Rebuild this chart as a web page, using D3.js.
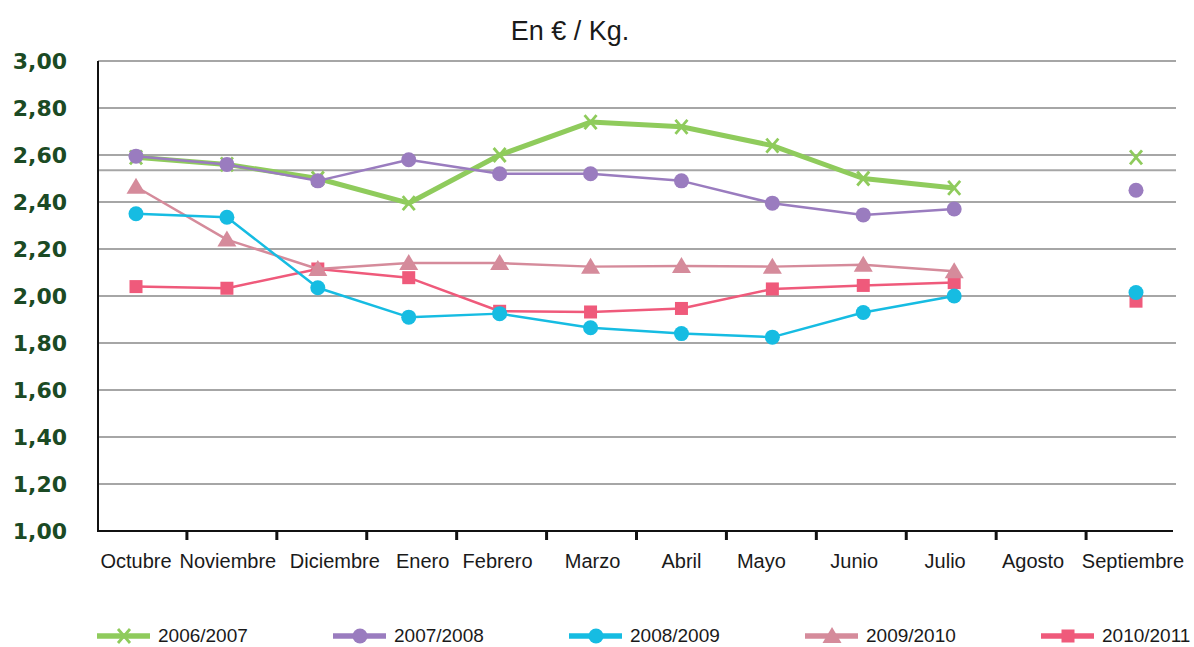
<!DOCTYPE html>
<html>
<head>
<meta charset="utf-8">
<script src="https://cdn.jsdelivr.net/npm/d3@7"></script>
<style>
  html, body { margin: 0; padding: 0; background: #fff; }
  svg { display: block; }
</style>
</head>
<body>
<svg id="chart" width="1194" height="647"></svg>
<script>
// ---- data ----
const months = ["Octubre","Noviembre","Diciembre","Enero","Febrero","Marzo","Abril","Mayo","Junio","Julio","Agosto","Septiembre"];
const seriesNames = ["2006/2007","2007/2008","2008/2009","2009/2010","2010/2011"];
const s2006_2007 = [2.59, 2.56, 2.50, 2.395, 2.60, 2.74, 2.72, 2.64, 2.50, 2.46, null, 2.59];
const s2007_2008 = [2.595, 2.56, 2.49, 2.58, 2.52, 2.52, 2.49, 2.395, 2.345, 2.37, null, 2.45];
const s2008_2009 = [2.35, 2.335, 2.035, 1.91, 1.925, 1.865, 1.84, 1.825, 1.93, 2.00, null, 2.015];
const s2009_2010 = [2.465, 2.24, 2.115, 2.14, 2.14, 2.125, 2.128, 2.125, 2.133, 2.105, null, null];
const s2010_2011 = [2.04, 2.033, 2.115, 2.078, 1.935, 1.932, 1.947, 2.03, 2.045, 2.057, null, 1.978];
const yTicks = [1.0, 1.2, 1.4, 1.6, 1.8, 2.0, 2.2, 2.4, 2.6, 2.8, 3.0];
const extraGrid = [2.535];
const titleText = "En € / Kg.";

// ---- layout / styles ----
const colors = ["#8fcb5c", "#9a7cbf", "#16bce2", "#d58b9b", "#ef5a7b"];
const widths = [5, 2.5, 2.5, 2.5, 2.5];
const markers = ["x", "circle", "circle", "triangle", "square"];
const values = [s2006_2007, s2007_2008, s2008_2009, s2009_2010, s2010_2011];
// small horizontal nudges of month labels, as in the original layout
const labelNudge = [0, 1, 17, 14, -2, 2, 0, -11, -9, -9, -12, -3];

const svg = d3.select("#chart");
const y = d3.scaleLinear().domain([1, 3]).range([531, 61]);
const xPoint = d3.scalePoint().domain(months).range([136, 1136]);
const xBand = d3.scaleBand().domain(months).range([97, 1176]);
const locale = d3.formatLocale({decimal: ",", thousands: ".", grouping: [3], currency: ["", " €"]});
const fmt = locale.format(".2f");

// title
svg.append("text")
  .attr("x", 570).attr("y", 40)
  .attr("text-anchor", "middle")
  .style("font-family", "'Liberation Sans', Arial, sans-serif")
  .style("font-size", "27px")
  .attr("fill", "#1a1a1a")
  .text(titleText);

// gridlines
svg.append("g").selectAll("line").data(yTicks.filter(v => v > 1).concat(extraGrid)).join("line")
  .attr("x1", 98).attr("x2", 1176)
  .attr("y1", d => y(d)).attr("y2", d => y(d))
  .attr("stroke", "#a6a6a6").attr("stroke-width", 2);

// y labels
svg.append("g").selectAll("text").data(yTicks).join("text")
  .attr("x", 67).attr("y", d => y(d))
  .attr("dy", "0.36em")
  .attr("text-anchor", "end")
  .style("font-family", "'DejaVu Sans', sans-serif")
  .style("font-weight", "bold")
  .style("font-size", "22px")
  .attr("fill", "#1b4a24")
  .text(d => fmt(d));

// axes lines
svg.append("line").attr("x1", 98).attr("x2", 98).attr("y1", y(3)).attr("y2", y(1) + 1)
  .attr("stroke", "#111").attr("stroke-width", 2);
svg.append("line").attr("x1", 97).attr("x2", 1173).attr("y1", y(1)).attr("y2", y(1))
  .attr("stroke", "#111").attr("stroke-width", 2);

// ticks at category boundaries
svg.append("g").selectAll("line").data(months.slice(1)).join("line")
  .attr("x1", d => xBand(d)).attr("x2", d => xBand(d))
  .attr("y1", y(1)).attr("y2", y(1) + 9)
  .attr("stroke", "#111").attr("stroke-width", 3);

// x labels
svg.append("g").selectAll("text").data(months).join("text")
  .attr("x", (d, i) => xPoint(d) + labelNudge[i]).attr("y", 568)
  .attr("text-anchor", "middle")
  .style("font-family", "'Liberation Sans', Arial, sans-serif")
  .style("font-size", "20px")
  .attr("fill", "#1a1a1a")
  .text(d => d);

function drawMarker(g, type, color) {
  if (type === "circle") {
    g.append("circle").attr("r", 7.5).attr("fill", color);
  } else if (type === "square") {
    g.append("rect").attr("x", -6.5).attr("y", -6.5).attr("width", 13).attr("height", 13).attr("fill", color);
  } else if (type === "triangle") {
    g.append("path").attr("d", "M0,-9L9.5,7L-9.5,7Z").attr("fill", color);
  } else if (type === "x") {
    g.append("path").attr("d", "M-6,-7L6,7M-6,7L6,-7").attr("stroke", color).attr("stroke-width", 2.8).attr("fill", "none");
  }
}

const line = d3.line()
  .defined(d => d.v !== null)
  .x(d => xPoint(d.m))
  .y(d => y(d.v));

// draw order: later seasons underneath
const order = [4, 3, 2, 0, 1];
order.forEach(i => {
  const pts = months.map((m, k) => ({m: m, v: values[i][k]}));
  const g = svg.append("g");
  g.append("path").datum(pts)
    .attr("d", line)
    .attr("fill", "none")
    .attr("stroke", colors[i])
    .attr("stroke-width", widths[i])
    .attr("stroke-linejoin", "round");
  pts.filter(d => d.v !== null).forEach(d => {
    const mg = g.append("g").attr("transform", `translate(${xPoint(d.m)},${y(d.v)})`);
    drawMarker(mg, markers[i], colors[i]);
  });
});

// legend
const legendX = d3.scaleLinear().domain([0, 4]).range([97, 1041]);
seriesNames.forEach((name, i) => {
  const lx = legendX(i);
  const g = svg.append("g");
  g.append("line").attr("x1", lx).attr("x2", lx + 53).attr("y1", 636).attr("y2", 636)
    .attr("stroke", colors[i]).attr("stroke-width", 5.5);
  const mg = g.append("g").attr("transform", `translate(${lx + 27},636)`);
  drawMarker(mg, markers[i], colors[i]);
  g.append("text").attr("x", lx + 61).attr("y", 642)
    .style("font-family", "'Liberation Sans', Arial, sans-serif")
    .style("font-size", "19px")
    .attr("fill", "#1a1a1a")
    .text(name);
});
</script>
</body>
</html>
